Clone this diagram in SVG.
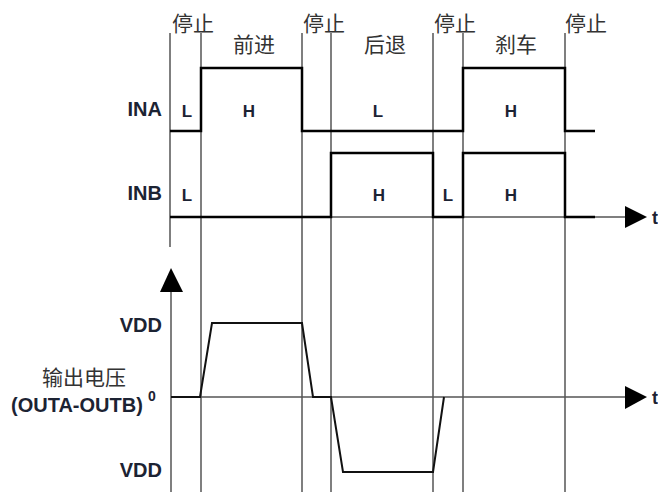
<svg xmlns="http://www.w3.org/2000/svg" width="658" height="492" viewBox="0 0 658 492">
<style>
.cn{font-family:"Noto Sans CJK SC","Liberation Sans",sans-serif;font-size:21px;fill:#333;text-anchor:middle}
.lb{font-family:"Liberation Sans",Arial,sans-serif;font-weight:bold;fill:#1c2333}
.sig{font-size:20px;text-anchor:end}
.lv{font-size:17px;text-anchor:middle}
.grid{stroke:#555;stroke-width:1.5;fill:none}
.axis{stroke:#555;stroke-width:1.5;fill:none}
.wave{stroke:#000;stroke-width:2.5;fill:none;stroke-linejoin:miter}
.out{stroke:#111;stroke-width:2;fill:none}
.head{fill:#000}
</style>
<rect width="658" height="492" fill="#fff"/>
<g id="grid">
<line class="grid" x1="170" y1="33" x2="170" y2="247"/>
<line class="grid" x1="201" y1="33" x2="201" y2="492"/>
<line class="grid" x1="302" y1="33" x2="302" y2="492"/>
<line class="grid" x1="331" y1="33" x2="331" y2="492"/>
<line class="grid" x1="433" y1="33" x2="433" y2="492"/>
<line class="grid" x1="463" y1="33" x2="463" y2="492"/>
<line class="grid" x1="565" y1="33" x2="565" y2="492"/>
</g>
<g id="phase-labels">
<text class="cn" x="193" y="31">停止</text>
<text class="cn" x="254" y="52">前进</text>
<text class="cn" x="324" y="31">停止</text>
<text class="cn" x="385" y="52">后退</text>
<text class="cn" x="455" y="31">停止</text>
<text class="cn" x="516" y="52">刹车</text>
<text class="cn" x="586" y="31">停止</text>
</g>
<g id="axes">
<line class="axis" x1="170" y1="217" x2="628" y2="217"/>
<polygon class="head" points="625,206 647,217 625,228"/>
<line class="axis" x1="171" y1="397" x2="628" y2="397"/>
<polygon class="head" points="625,386 647,397 625,409"/>
<line class="axis" x1="171" y1="290" x2="171" y2="492"/>
<polygon class="head" points="160,292 171,268 183,292"/>
<text class="lb" x="652" y="224" font-size="18">t</text>
<text class="lb" x="652" y="404" font-size="18">t</text>
</g>
<g id="INA">
<text class="lb sig" x="162" y="116">INA</text>
<polyline class="wave" points="170,131 201,131 201,68 302,68 302,131 463,131 463,68 565,68 565,131 595,131"/>
<text class="lb lv" x="187" y="117">L</text>
<text class="lb lv" x="249" y="117">H</text>
<text class="lb lv" x="378" y="117">L</text>
<text class="lb lv" x="511" y="117">H</text>
</g>
<g id="INB">
<text class="lb sig" x="162" y="200">INB</text>
<polyline class="wave" points="170,217 331,217 331,153 433,153 433,217 463,217 463,153 565,153 565,217 595,217"/>
<text class="lb lv" x="187" y="201">L</text>
<text class="lb lv" x="379" y="201">H</text>
<text class="lb lv" x="448" y="201">L</text>
<text class="lb lv" x="511" y="201">H</text>
</g>
<g id="output">
<text class="lb sig" x="162" y="332">VDD</text>
<text class="lb sig" x="162" y="477">VDD</text>
<text class="cn" x="84" y="385">输出电压</text>
<text class="lb" x="11" y="412" font-size="20">(OUTA-OUTB)</text>
<text class="lb" x="148" y="401" font-size="14">0</text>
<polyline class="out" points="171,397 200,397 212,323 302,323 313,397 331,397 343,472 433,472 444,397"/>
</g>
</svg>
